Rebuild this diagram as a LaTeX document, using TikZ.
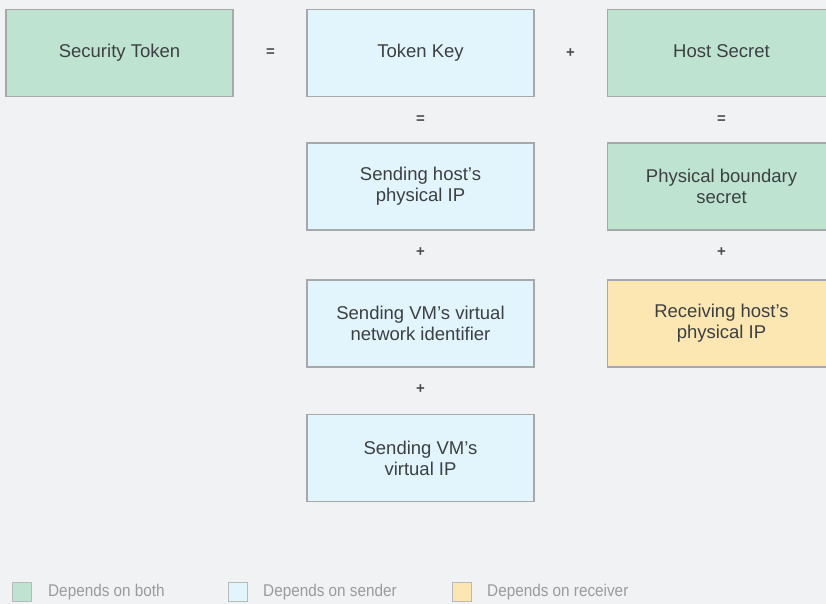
\documentclass[tikz,border=0pt]{standalone}
\usepackage{fontspec}
\setmainfont{Liberation Sans}
\newfontfamily\legfont[FakeStretch=0.9]{Liberation Sans}
\definecolor{bg}{HTML}{F1F2F4}
\definecolor{cboth}{HTML}{BEE4D1}
\definecolor{csend}{HTML}{E2F4FC}
\definecolor{crecv}{HTML}{FCE6B2}
\definecolor{cborder}{HTML}{A6A8AA}
\definecolor{ctext}{HTML}{3C4043}
\definecolor{cop}{HTML}{4A4D50}
\definecolor{cleg}{HTML}{9A9B9D}
\begin{document}
\begin{tikzpicture}[x=1pt,y=-1pt,
  box/.style={draw=cborder,line width=1.1pt,minimum width=227pt,minimum height=87pt,
    inner sep=0pt,align=center,text=ctext,
    font=\fontsize{18.5}{21}\selectfont},
  both/.style={box,fill=cboth},
  send/.style={box,fill=csend},
  recv/.style={box,fill=crecv},
  op/.style={text=cop,font=\bfseries\fontsize{15}{17}\selectfont,inner sep=0pt},
  legsq/.style={draw=cborder!80,line width=0.8pt,minimum width=19pt,minimum height=19pt,inner sep=0pt},
  legtxt/.style={text=cleg,anchor=west,inner sep=0pt,font=\legfont\fontsize{17}{19}\selectfont}]
\useasboundingbox (0,0) rectangle (826,604);
\fill[bg] (0,0) rectangle (826,604);
\clip (0,0) rectangle (826,604);
% row 1
\node[both] (st) at (119.5,53) {\strut Security Token};
\node[send] (tk) at (420.5,53) {\strut Token Key};
\node[both,minimum width=228pt] (hs) at (721.5,53) {\strut Host Secret};
\node[op] (eq1) at (270.5,53) {=};
\node[op] (pl1) at (570.5,53) {+};
% row 2
\node[op] (eq2) at (420.5,120) {=};
\node[op] (eq3) at (721.5,120) {=};
\node[send] (shp) at (420.5,186.5) {Sending host’s\\physical IP};
\node[both,minimum width=228pt] (pbs) at (721.5,186.5) {Physical boundary\\secret};
% row 3
\node[op] (pl2) at (420.5,252.5) {+};
\node[op] (pl3) at (721.5,252.5) {+};
\node[send] (svn) at (420.5,323.5) {Sending VM’s virtual\\network identifier};
\node[recv,minimum width=228pt] (rhp) at (721.5,323.5) {Receiving host’s\\physical IP};
% row 4
\node[op] (pl4) at (420.5,389) {+};
\node[send] (svi) at (420.5,458) {Sending VM’s\\virtual IP};
% legend
\node[legsq,fill=cboth] (lg1) at (22,592) {};
\node[legtxt] (lt1) at (48,592) {Depends on both};
\node[legsq,fill=csend] (lg2) at (238,592) {};
\node[legtxt] (lt2) at (263,592) {Depends on sender};
\node[legsq,fill=crecv] (lg3) at (462,592) {};
\node[legtxt] (lt3) at (487,592) {Depends on receiver};
\end{tikzpicture}
\end{document}
